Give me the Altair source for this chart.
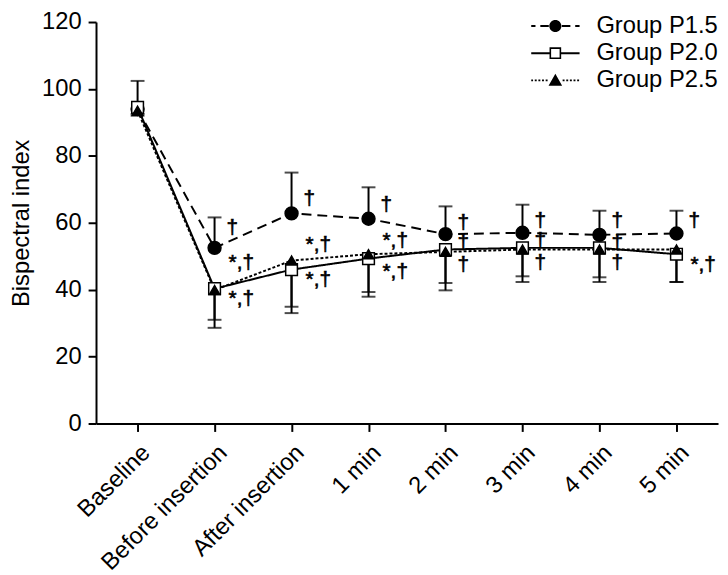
import altair as alt
import pandas as pd

cats = ["Baseline", "Before insertion", "After insertion", "1 min", "2 min", "3 min", "4 min", "5 min"]
groups = ["Group P1.5", "Group P2.0", "Group P2.5"]

p15_mean = [94.0, 52.5, 62.8, 61.2, 56.6, 57.0, 56.4, 56.8]
p15_err = [102.4, 61.6, 75.0, 70.6, 64.9, 65.4, 63.6, 63.6]
p20_mean = [94.5, 40.3, 46.0, 49.3, 52.0, 52.5, 52.5, 50.6]
p20_err = [92.0, 28.6, 33.0, 37.9, 39.8, 42.3, 42.3, 42.3]
p25_mean = [93.5, 39.9, 48.7, 50.6, 51.3, 52.0, 52.0, 52.0]
p25_err = [92.5, 31.0, 34.9, 39.3, 42.0, 44.0, 43.7, 42.3]

ann_cat = (["Before insertion"] * 3 + ["After insertion"] * 3 + ["1 min"] * 3 +
           ["2 min"] * 3 + ["3 min"] * 3 + ["4 min"] * 3 + ["5 min"] * 2)
ann_y = [58.4, 48.1, 37.3, 67.2, 53.4, 42.8, 65.2, 54.6, 45.2,
         59.9, 54.0, 47.5, 60.4, 54.6, 48.1, 60.4, 54.0, 48.1, 60.4, 47.5]
ann_text = ["†", "*,†", "*,†", "†", "*,†", "*,†", "†", "*,†", "*,†",
            "†", "†", "†", "†", "†", "†", "†", "†", "†", "†", "*,†"]

rows = []
for g, means, errs in zip(groups, [p15_mean, p20_mean, p25_mean], [p15_err, p20_err, p25_err]):
    for c, m, e in zip(cats, means, errs):
        rows.append({"cat": c, "group": g, "mean": m, "err": e})
df = pd.DataFrame(rows)
ann = pd.DataFrame({"cat": ann_cat, "y": ann_y, "t": ann_text})

FONT = "Liberation Sans"
FS = 24

# legend symbols (line + marker) drawn as filled custom paths in [-1,1] space
HT = 0.04
def bars(ranges, ht=HT):
    return " ".join(f"M{a:.3f},{-ht:.3f}H{b:.3f}V{ht:.3f}H{a:.3f}Z" for a, b in ranges)

def dotted(a, b, d=0.08, gap=0.07):
    out = []
    x = a
    while x < b - 0.02:
        out.append((x, min(x + d, b)))
        x += d + gap
    return out

circle = "M0.25,0A0.25,0.25 0 1,1 -0.25,0A0.25,0.25 0 1,1 0.25,0Z"
square_ring = "M-0.24,-0.24H0.24V0.24H-0.24Z M-0.175,-0.175V0.175H0.175V-0.175Z"
tri = "M0,-0.27L0.28,0.22L-0.28,0.22Z"
leg_paths = [
    bars([(-1, -0.82), (-0.62, -0.27), (0.27, 0.62), (0.82, 1)]) + " " + circle,
    bars([(-1, -0.24), (0.24, 1)]) + " " + square_ring,
    bars(dotted(-1, -0.28) + dotted(0.30, 1), ht=0.035) + " " + tri,
]

x_enc = alt.X("cat:N", sort=cats, title=None,
              scale=alt.Scale(type="point", padding=0.54),
              axis=alt.Axis(labelAngle=-45, labelFontSize=FS, labelFont=FONT, labelColor="black",
                            tickSize=8, tickWidth=2, tickColor="black", domainColor="black",
                            domainWidth=2, labelPadding=9))
y_scale = alt.Scale(domain=[0, 120], nice=False)
y_axis = alt.Axis(values=[0, 20, 40, 60, 80, 100, 120], grid=False, labelFontSize=FS, labelFont=FONT,
                  labelColor="black", tickSize=8, tickWidth=2, tickColor="black", domainColor="black",
                  domainWidth=2, title="Bispectral index", titleFontSize=FS, titleFont=FONT,
                  titleFontWeight="normal", titleColor="black", labelPadding=7, titlePadding=8)

base = alt.Chart(df)

lines = base.mark_line(color="black", strokeWidth=2).encode(
    x=x_enc,
    y=alt.Y("mean:Q", scale=y_scale, axis=y_axis),
    strokeDash=alt.StrokeDash("group:N", sort=groups, legend=None,
                              scale=alt.Scale(domain=groups, range=[[10, 6], [1, 0], [3, 2]])),
    detail="group:N",
)

rules = base.mark_rule(color="black", strokeWidth=2).encode(
    x=alt.X("cat:N", sort=cats), y="mean:Q", y2="err:Q"
)
caps = base.mark_tick(color="black", thickness=2, size=14).encode(
    x=alt.X("cat:N", sort=cats), y="err:Q"
)

points = base.mark_point(filled=True, stroke="black", strokeWidth=1.5, opacity=1).encode(
    x=alt.X("cat:N", sort=cats),
    y="mean:Q",
    shape=alt.Shape("group:N", sort=groups, legend=None,
                    scale=alt.Scale(domain=groups, range=["circle", "square", "triangle-up"])),
    fill=alt.Fill("group:N", sort=groups, legend=None,
                  scale=alt.Scale(domain=groups, range=["black", "white", "black"])),
    size=alt.Size("group:N", sort=groups, legend=None,
                  scale=alt.Scale(domain=groups, range=[170, 110, 150])),
)

leg = alt.Legend(orient="none", legendX=440, legendY=-9, title=None, symbolSize=2401,
                 symbolFillColor="black", symbolStrokeWidth=0, symbolOpacity=1,
                 labelFontSize=FS, labelFont=FONT, labelColor="black", clipHeight=26,
                 rowPadding=1.5, labelOffset=17, symbolOffset=0, padding=0)
legend_layer = base.mark_point(filled=True, opacity=0, color="black").encode(
    x=alt.X("cat:N", sort=cats),
    y="mean:Q",
    shape=alt.Shape("group:N", sort=groups, legend=leg,
                    scale=alt.Scale(domain=groups, range=leg_paths)),
)

annb = alt.Chart(ann)
ann1 = annb.transform_filter(alt.datum.t == "†").mark_text(
    fontSize=21, font=FONT, color="black", stroke="black", strokeWidth=0.6,
    dx=18, align="center", baseline="middle"
).encode(x=alt.X("cat:N", sort=cats), y="y:Q", text="t:N")
ann2 = annb.transform_filter(alt.datum.t != "†").mark_text(
    fontSize=21, font=FONT, color="black", stroke="black", strokeWidth=0.6,
    dx=27, align="center", baseline="middle"
).encode(x=alt.X("cat:N", sort=cats), y="y:Q", text="t:N")

chart = alt.layer(lines, rules, caps, points, legend_layer, ann1, ann2).resolve_scale(
    shape="independent", fill="independent"
).properties(
    width=629, height=406, background="white",
    autosize=alt.AutoSizeParams(type="none"),
    padding={"left": 89, "top": 11, "right": 2, "bottom": 150},
).configure_view(stroke=None)

chart.save("out.html", embed_options={"renderer": "svg", "actions": False})
